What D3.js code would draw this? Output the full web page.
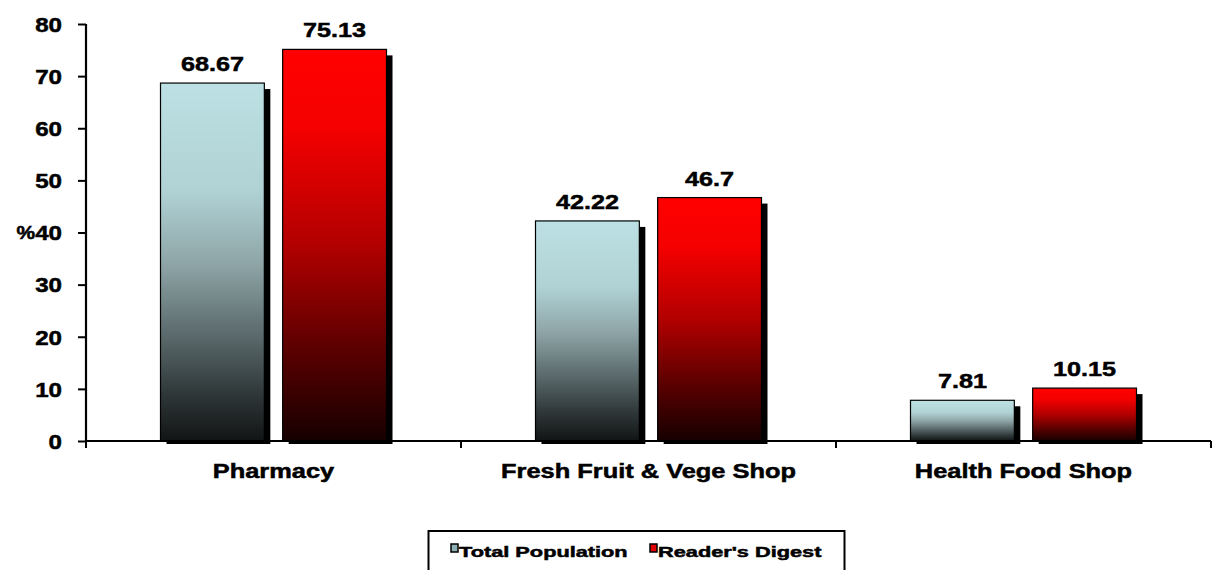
<!DOCTYPE html>
<html><head><meta charset="utf-8">
<script src="https://cdn.jsdelivr.net/npm/d3@7"></script>
<style>
html,body{margin:0;padding:0;background:#fff;}
text{font-family:Arial,"Liberation Sans",sans-serif;font-weight:bold;fill:#000;stroke:#000;stroke-width:0.5px;}
</style></head>
<body><svg id="chart" width="1214" height="570"></svg>
<script>
const categories = ["Pharmacy", "Fresh Fruit & Vege Shop", "Health Food Shop"];
const seriesNames = ["Total Population", "Reader's Digest"];
const totalPopulation = [68.67, 42.22, 7.81];
const readersDigest = [75.13, 46.7, 10.15];
const yTicks = [0, 10, 20, 30, 40, 50, 60, 70, 80];

const svg = d3.select("#chart");
const margin = {left: 86, right: 3, top: 24, bottom: 129};
const W = 1214, H = 570;
const x0 = d3.scaleBand().domain(categories).range([margin.left, W - margin.right]).paddingInner(0).paddingOuter(0);
const y = d3.scaleLinear().domain([0, 80]).range([H - margin.bottom, margin.top]);
const x1 = d3.scaleBand().domain(seriesNames).range([74.5, x0.bandwidth() - 74.5]).paddingInner(0.15);

const defs = svg.append("defs");
function grad(id, stops) {
  const g = defs.append("linearGradient").attr("id", id).attr("x1", 0).attr("y1", 0).attr("x2", 0).attr("y2", 1);
  stops.forEach(s => g.append("stop").attr("offset", s[0]).attr("stop-color", s[1]));
}
grad("gTeal", [[0, "#bce0e3"], [0.3, "#b0d2d5"], [0.5, "#8fa6a8"], [0.7, "#5c6b6d"], [0.88, "#2c3435"], [1, "#121414"]]);
grad("gRed", [[0, "#ff0000"], [0.2, "#f50000"], [0.5, "#b20000"], [0.75, "#600000"], [1, "#160000"]]);
const fills = {"Total Population": "url(#gTeal)", "Reader's Digest": "url(#gRed)"};
const legendFills = {"Total Population": "#8fb0b3", "Reader's Digest": "#e00000"};

const rows = [];
categories.forEach((c, i) => {
  rows.push({cat: c, s: seriesNames[0], v: totalPopulation[i]});
  rows.push({cat: c, s: seriesNames[1], v: readersDigest[i]});
});

// shadows
svg.append("g").selectAll("rect").data(rows).join("rect")
  .attr("x", d => x0(d.cat) + x1(d.s) + 6)
  .attr("y", d => y(d.v) + 6)
  .attr("width", x1.bandwidth())
  .attr("height", d => y(0) - y(d.v) - 3)
  .attr("fill", "#000");
// bars
svg.append("g").selectAll("rect").data(rows).join("rect")
  .attr("x", d => x0(d.cat) + x1(d.s))
  .attr("y", d => y(d.v))
  .attr("width", x1.bandwidth())
  .attr("height", d => y(0) - y(d.v))
  .attr("fill", d => fills[d.s])
  .attr("stroke", "#000").attr("stroke-width", 1.2);

// axes
const SX = 1.15;
const yAxis = svg.append("g").attr("transform", `translate(${margin.left},0)`)
  .call(d3.axisLeft(y).tickValues(yTicks).tickSize(8).tickFormat(d3.format("d")));
yAxis.select(".domain").attr("stroke", "#000").attr("stroke-width", 2.2).attr("d", `M0,${y(80)}V${y(0)}`);
yAxis.selectAll(".tick line").attr("stroke", "#000").attr("stroke-width", 2);
yAxis.selectAll(".tick text").attr("font-size", 21).attr("font-family", null).attr("dy", "0.35em")
  .attr("transform", `scale(${SX},1)`).attr("x", -24 / SX);

svg.append("text").attr("transform", `translate(35,${y(40)}) scale(1.1,1)`).attr("dy", "0.35em")
  .attr("text-anchor", "end").attr("font-size", 19).text("%");

const bounds = [margin.left, ...categories.map(c => x0(c) + x0.bandwidth())];
svg.append("line").attr("x1", margin.left).attr("x2", W - margin.right).attr("y1", y(0)).attr("y2", y(0))
  .attr("stroke", "#000").attr("stroke-width", 2.2);
svg.append("g").selectAll("line").data(bounds).join("line")
  .attr("x1", d => d).attr("x2", d => d).attr("y1", y(0)).attr("y2", y(0) + 7)
  .attr("stroke", "#000").attr("stroke-width", 2);

// category labels
svg.append("g").selectAll("text").data(categories).join("text")
  .attr("transform", d => `translate(${x0(d) + x0.bandwidth() / 2},478) scale(1.27,1)`)
  .attr("text-anchor", "middle").attr("font-size", 20).text(d => d);

// value labels
svg.append("g").selectAll("text").data(rows).join("text")
  .attr("transform", d => `translate(${x0(d.cat) + x1(d.s) + x1.bandwidth() / 2},${y(d.v) - 12}) scale(1.2,1)`)
  .attr("text-anchor", "middle").attr("font-size", 21).text(d => d3.format("")(d.v));

// legend
const lg = svg.append("g");
lg.append("rect").attr("x", 428.5).attr("y", 531).attr("width", 416).attr("height", 45)
  .attr("fill", "#fff").attr("stroke", "#000").attr("stroke-width", 2);
const legX = [451, 650];
seriesNames.forEach((s, i) => {
  lg.append("rect").attr("x", legX[i]).attr("y", 544).attr("width", 7).attr("height", 8)
    .attr("fill", legendFills[s]).attr("stroke", "#000").attr("stroke-width", 1.5);
  lg.append("text").attr("transform", `translate(${legX[i] + 8},557) scale(1.45,1)`)
    .attr("font-size", 15).text(s);
});
</script></body></html>
